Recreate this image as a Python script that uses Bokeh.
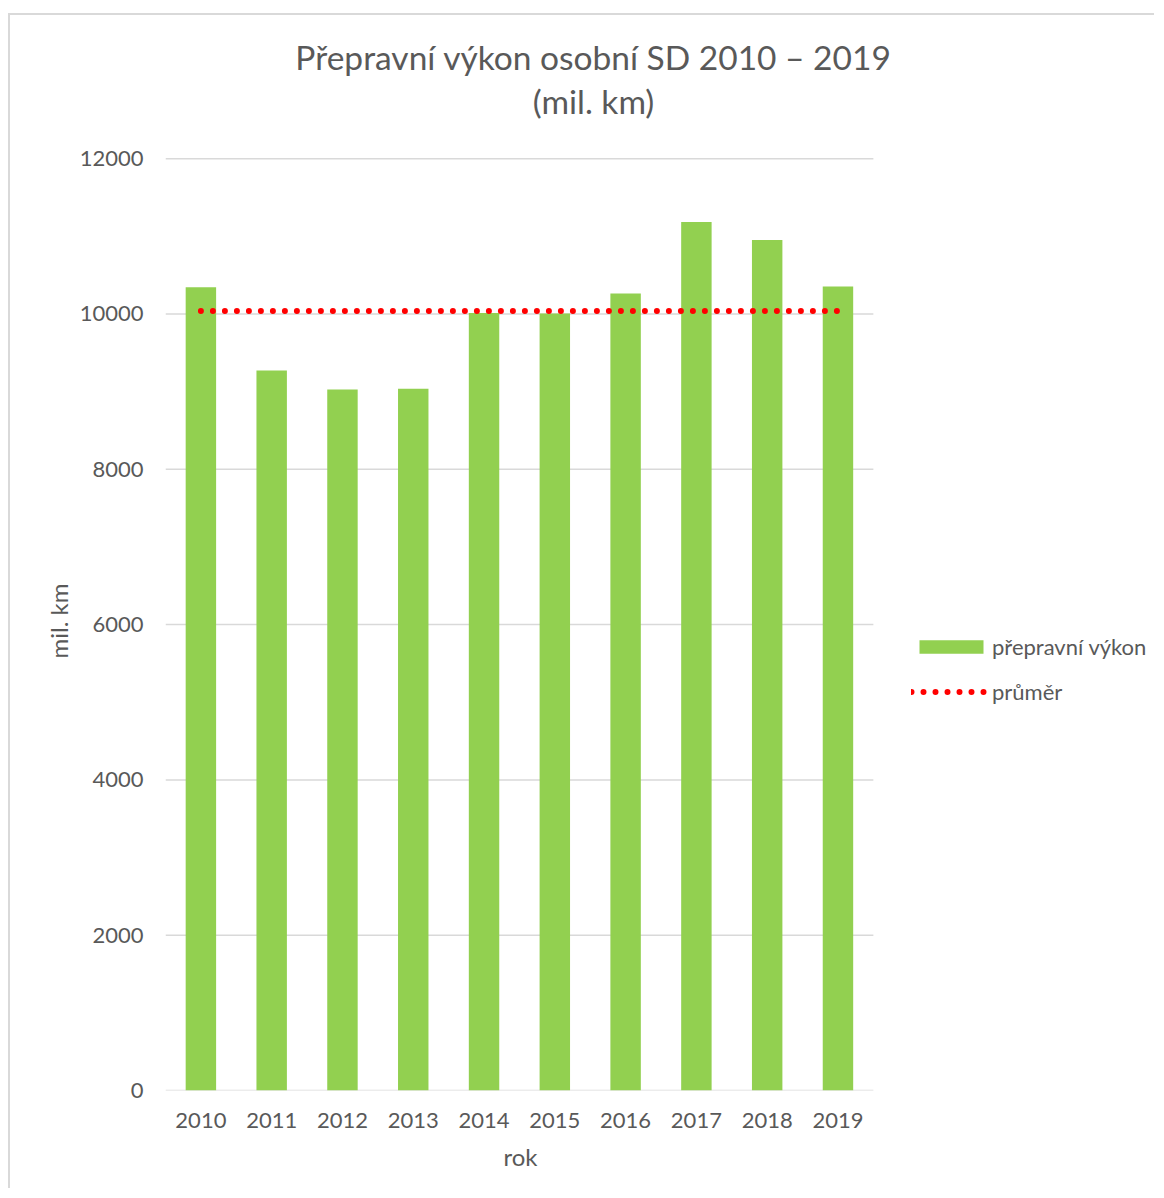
from bokeh.plotting import figure
from bokeh.models import (ColumnDataSource, FactorRange, Range1d, FixedTicker, Legend,
                          LegendItem, Label, Title)
from bokeh.embed import file_html
from bokeh.resources import INLINE

# ---- data ----
years = ["2010", "2011", "2012", "2013", "2014", "2015", "2016", "2017", "2018", "2019"]
vykon = [10345, 9273, 9028, 9036, 10014, 10006, 10264, 11186, 10954, 10354]
prumer = [10040] * len(years)
y_ticks = [0, 2000, 4000, 6000, 8000, 10000, 12000]
title_lines = ["Přepravní výkon osobní SD 2010 – 2019", "(mil. km)"]
x_title = "rok"
y_title = "mil. km"

FONT = "Lato"
GRAY = "#595959"

# empty slots to the right of the bars leave room for the legend inside the frame
pad = [" " * (i + 1) for i in range(4)]

src = ColumnDataSource(dict(year=years, vykon=vykon, prumer=prumer))
grid_src = ColumnDataSource(dict(tick=y_ticks))

p = figure(width=1146, height=1175, x_range=FactorRange(*years, *pad, range_padding=0),
           y_range=Range1d(0, 13844), output_backend="svg", toolbar_location=None,
           min_border_left=155, min_border_right=0, min_border_top=0, min_border_bottom=100)
p.styles = {"margin-top": "13px", "margin-left": "8px",
            "border-top": "2px solid #d9d9d9", "border-left": "2px solid #d9d9d9"}
p.outline_line_color = None
p.background_fill_color = "white"
p.border_fill_color = "white"

# horizontal gridlines across the bar area only
p.segment(x0=0, x1=len(years), y0="tick", y1="tick", source=grid_src,
          line_color="#d9d9d9", line_width=1.5)

bars = p.vbar(x="year", top="vykon", width=0.43, source=src, fill_color="#92d050", line_color=None)
line = p.line(x="year", y="prumer", source=src, line_color="#ff0000", line_width=6,
              line_dash="0 12", line_cap="round")

# axes
p.yaxis.ticker = FixedTicker(ticks=y_ticks)
p.yaxis.bounds = (y_ticks[0], y_ticks[-1])
p.yaxis.axis_line_color = None
p.yaxis.major_tick_line_color = None
p.yaxis.minor_tick_line_color = None
p.yaxis.major_tick_out = 0
p.yaxis.major_label_standoff = 22

p.xaxis.bounds = (0, len(years))
p.xaxis.axis_line_color = None
p.xaxis.major_tick_line_color = None
p.xaxis.major_tick_out = 0
p.xaxis.major_label_standoff = 22

for ax in (p.xaxis, p.yaxis):
    ax.major_label_text_font = FONT
    ax.major_label_text_font_size = "22px"
    ax.major_label_text_color = GRAY

p.xgrid.grid_line_color = None
p.ygrid.grid_line_color = None

# axis titles (placed as side titles so they centre on the bar area, not the whole frame)
p.add_layout(Title(text=x_title, align="left", offset=338, standoff=18, text_font=FONT,
                   text_font_size="24px", text_color=GRAY, text_font_style="normal"), "below")
p.add_layout(Title(text=y_title, align="left", offset=432, standoff=7, text_font=FONT,
                   text_font_size="24px", text_color=GRAY, text_font_style="normal"), "left")

# chart title (two lines), screen offsets from the plot frame's bottom-left
for txt, yy in zip(title_lines, [1034, 990]):
    p.add_layout(Label(x=428, y=yy, x_units="screen", y_units="screen", text=txt,
                       text_align="center", text_baseline="alphabetic", text_font=FONT,
                       text_font_size="33.5px", text_color=GRAY))

legend = Legend(items=[LegendItem(label="přepravní výkon", renderers=[bars]),
                       LegendItem(label="průměr", renderers=[line])],
                location=(746, 384), orientation="vertical", padding=0, margin=0,
                border_line_color=None, background_fill_alpha=0,
                glyph_width=80, glyph_height=17, label_height=30, spacing=15,
                label_standoff=1, label_text_font=FONT, label_text_font_size="22px",
                label_text_color=GRAY)
p.add_layout(legend)

open("out.html", "w").write(file_html(p, INLINE))
